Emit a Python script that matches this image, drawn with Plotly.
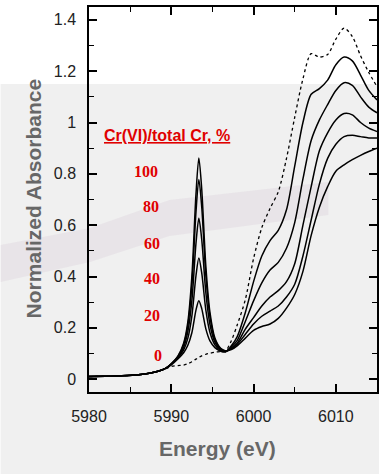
import plotly.graph_objects as go

# ---- data ----
energy = [5980, 5982, 5984, 5986, 5987.5, 5988.5, 5989.3,
          5990, 5990.8, 5991.5, 5992, 5992.5, 5993, 5993.35, 5993.7, 5994.2, 5994.7, 5995.3, 5996, 5996.6,
          5997.3, 5998, 5999, 6000, 6001, 6002, 6003, 6004, 6005, 6006, 6007, 6008, 6009, 6010, 6011,
          6012, 6013, 6014, 6015]

cr0 = [0.010, 0.011, 0.013, 0.017, 0.024, 0.032, 0.040,
       0.050, 0.053, 0.055, 0.060, 0.068, 0.078, 0.085, 0.091, 0.097, 0.101, 0.105, 0.108, 0.110,
       0.150, 0.210, 0.310, 0.470, 0.590, 0.665, 0.730, 0.860, 1.020, 1.170, 1.268, 1.255, 1.265, 1.325, 1.368,
       1.335, 1.260, 1.195, 1.140]

cr20 = [0.010, 0.011, 0.013, 0.017, 0.024, 0.032, 0.042,
        0.056, 0.079, 0.103, 0.131, 0.181, 0.269, 0.306, 0.275, 0.196, 0.149, 0.123, 0.109, 0.106,
        0.130, 0.165, 0.260, 0.380, 0.480, 0.540, 0.580, 0.660, 0.830, 1.000, 1.110, 1.132, 1.165, 1.225, 1.255,
        1.240, 1.185, 1.125, 1.088]

cr40 = [0.010, 0.011, 0.013, 0.017, 0.024, 0.032, 0.042,
        0.058, 0.082, 0.114, 0.158, 0.246, 0.403, 0.472, 0.414, 0.269, 0.182, 0.134, 0.112, 0.108,
        0.125, 0.150, 0.225, 0.305, 0.375, 0.425, 0.455, 0.510, 0.610, 0.780, 0.930, 1.010, 1.070, 1.125, 1.155,
        1.145, 1.100, 1.060, 1.038]

cr60 = [0.010, 0.011, 0.013, 0.017, 0.024, 0.032, 0.042,
        0.059, 0.085, 0.124, 0.183, 0.305, 0.529, 0.627, 0.544, 0.337, 0.213, 0.144, 0.115, 0.109,
        0.120, 0.140, 0.195, 0.240, 0.285, 0.320, 0.345, 0.380, 0.450, 0.600, 0.750, 0.890, 0.960, 1.010, 1.035,
        1.030, 1.000, 0.978, 0.965]

cr80 = [0.010, 0.011, 0.013, 0.017, 0.024, 0.032, 0.042,
        0.060, 0.088, 0.134, 0.207, 0.365, 0.651, 0.778, 0.671, 0.404, 0.244, 0.154, 0.118, 0.110,
        0.118, 0.135, 0.175, 0.215, 0.245, 0.265, 0.285, 0.320, 0.370, 0.480, 0.620, 0.760, 0.860, 0.915, 0.945,
        0.950, 0.945, 0.940, 0.940]

cr100 = [0.010, 0.011, 0.013, 0.017, 0.024, 0.032, 0.042,
         0.060, 0.090, 0.140, 0.220, 0.400, 0.720, 0.862, 0.740, 0.440, 0.260, 0.160, 0.120, 0.110,
         0.115, 0.130, 0.160, 0.190, 0.205, 0.215, 0.237, 0.277, 0.330, 0.420, 0.560, 0.670, 0.750, 0.810, 0.835,
         0.855, 0.872, 0.887, 0.900]

percent_labels = ["100", "80", "60", "40", "20", "0"]
x_ticks = [5980, 5990, 6000, 6010]
y_ticks = [0, 0.2, 0.4, 0.6, 0.8, 1, 1.2, 1.4]
y_ticklabels = ["0", "0.2", "0.4", "0.6", "0.8", "1", "1.2", "1.4"]

# ---- figure ----
W, H = 381, 474
L, R, T, B = 89, 2, 7, 82
pw, ph = W - L - R, H - T - B

def px(x):
    return (x - L) / pw

def py(y):
    return (H - B - y) / ph

fig = go.Figure()

solid = [cr20, cr40, cr60, cr80, cr100]
for s in solid:
    fig.add_trace(go.Scatter(x=energy, y=s, mode="lines",
                             line=dict(color="black", width=1.5, shape="spline", smoothing=0.8),
                             showlegend=False, hoverinfo="skip"))
fig.add_trace(go.Scatter(x=energy, y=cr0, mode="lines",
                         line=dict(color="black", width=1.3, dash="dot", shape="spline", smoothing=0.8),
                         showlegend=False, hoverinfo="skip"))

axis_font = dict(family="Arial, Liberation Sans, sans-serif", size=16, color="#222222")

fig.update_xaxes(range=[5980, 6015], tickvals=x_ticks, ticktext=[str(v) for v in x_ticks],
                 ticks="inside", ticklen=8, tickwidth=1.5, tickcolor="black",
                 minor=dict(dtick=5, tick0=5980, ticks="inside", ticklen=5, tickwidth=1.2, tickcolor="black"),
                 showline=True, linecolor="black", linewidth=1.5, mirror="allticks",
                 showgrid=False, zeroline=False, tickfont=axis_font, ticklabelstandoff=9)
fig.update_yaxes(range=[-0.05, 1.45], tickvals=y_ticks, ticktext=y_ticklabels,
                 ticks="inside", ticklen=8, tickwidth=1.5, tickcolor="black",
                 minor=dict(dtick=0.1, tick0=0, ticks="inside", ticklen=5, tickwidth=1.2, tickcolor="black"),
                 showline=True, linecolor="black", linewidth=1.5, mirror="allticks",
                 showgrid=False, zeroline=False, tickfont=axis_font, ticklabelstandoff=8)

# background: white top band, light grey lower region
fig.add_shape(type="rect", xref="paper", yref="paper", layer="below",
              x0=px(0), x1=px(W), y0=py(H), y1=py(84),
              fillcolor="#f0f0f0", line=dict(width=0))
# faint mauve band (scan artefact)
fig.add_shape(type="path", xref="paper", yref="paper", layer="below",
              path=(f"M {px(0)},{py(245)} L {px(90)},{py(228)} L {px(170)},{py(200)} L {px(330)},{py(182)} "
                    f"L {px(330)},{py(215)} L {px(170)},{py(236)} L {px(90)},{py(262)} L {px(0)},{py(282)} Z"),
              fillcolor="rgba(205,185,205,0.22)", line=dict(width=0))

title_font = dict(family="Arial, Liberation Sans, sans-serif", size=21, color="#676767")
fig.add_annotation(text="<b>Energy (eV)</b>", xref="paper", yref="paper", x=px(218), y=py(448),
                   xanchor="center", yanchor="middle", showarrow=False, font=title_font)
fig.add_annotation(text="<b>Normalized Absorbance</b>", xref="paper", yref="paper", x=px(33), y=py(198),
                   xanchor="center", yanchor="middle", textangle=-90, showarrow=False, font=title_font)

red = "#e00000"
fig.add_annotation(text="<b><u>Cr(VI)/total Cr, %</u></b>", xref="paper", yref="paper",
                   x=px(168), y=py(135), xanchor="center", yanchor="middle", showarrow=False,
                   font=dict(family="Arial, Liberation Sans, sans-serif", size=16, color=red))
label_x = [160, 162, 163, 163, 163, 165]
label_y = [171, 206, 243, 278, 315, 355]
for t, lx, ly in zip(percent_labels, label_x, label_y):
    fig.add_annotation(text=f"<b>{t}</b>", xref="paper", yref="paper", x=px(lx), y=py(ly),
                       xanchor="right", yanchor="middle", showarrow=False,
                       font=dict(family="Liberation Serif, Times New Roman, serif", size=16, color=red))

fig.update_layout(width=W, height=H, margin=dict(l=L, r=R, t=T, b=B, pad=0),
                  paper_bgcolor="white", plot_bgcolor="rgba(0,0,0,0)", showlegend=False)

fig.write_html("out.html", config={"displayModeBar": False},
               post_script="document.body.style.margin='0';document.body.style.overflow='hidden';")
